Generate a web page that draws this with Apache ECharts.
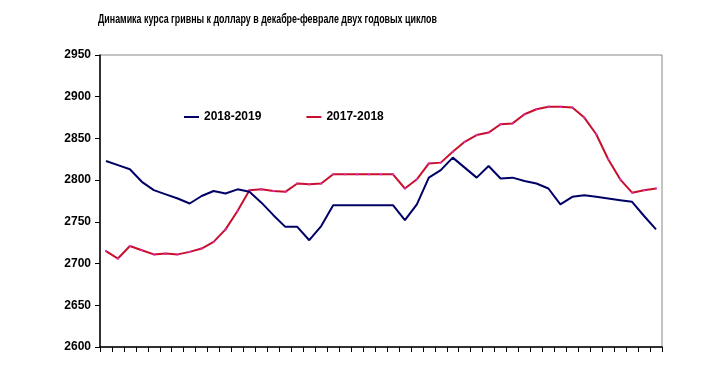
<!DOCTYPE html>
<html><head><meta charset="utf-8">
<script src="https://cdn.jsdelivr.net/npm/echarts@6/dist/echarts.min.js"></script>
<style>html,body{margin:0;padding:0;background:#fff}#c{width:710px;height:387px}</style>
</head><body><div id="c"></div>
<script>
var titleText = 'Динамика курса гривны к доллару в декабре-феврале двух годовых циклов';
var seriesNames = ['2018-2019', '2017-2018'];
var categories = [];
for (var k = 1; k <= 47; k++) categories.push(String(k));
var s2018_2019 = [2823, 2818, 2813, 2798, 2788, 2783, 2778, 2772, 2781, 2787, 2784, 2789, 2786, 2773, 2758, 2744,
  2744, 2728, 2745, 2770, 2770, 2770, 2770, 2770, 2770, 2752, 2771, 2803, 2812, 2827, 2815, 2803,
  2817, 2802, 2803, 2799, 2796, 2790, 2771, 2780, 2782, 2780, 2778, 2776, 2774, 2757, 2741];
var s2017_2018 = [2715, 2706, 2721, 2716, 2711, 2712, 2711, 2714, 2718, 2726, 2741, 2763, 2788, 2789, 2787, 2786,
  2796, 2795, 2796, 2807, 2807, 2807, 2807, 2807, 2807, 2790, 2801, 2820, 2821, 2834, 2846, 2854,
  2857, 2867, 2868, 2879, 2885, 2888, 2888, 2887, 2875, 2855, 2825, 2801, 2785, 2788, 2790];
var yMin = 2600, yMax = 2950, yStep = 50;

var chart = echarts.init(document.getElementById('c'), null, {renderer: 'canvas'});
chart.setOption({
  animation: false,
  backgroundColor: '#fff',
  graphic: [{
    type: 'text', x: 98, y: 14, scaleX: 0.74, scaleY: 1,
    style: {text: titleText, font: 'bold 12px "Liberation Sans"', fill: '#000', textVerticalAlign: 'top'}
  }],
  legend: {
    data: [
      {name: seriesNames[0], icon: 'rect', itemStyle: {color: '#000066'}},
      {name: seriesNames[1], icon: 'rect', itemStyle: {color: '#c8102e'}}
    ],
    left: 184, top: 111, padding: 0, itemWidth: 15, itemHeight: 2, itemGap: 45,
    textStyle: {fontFamily: 'Liberation Sans', fontWeight: 'bold', fontSize: 12, color: '#000'}
  },
  grid: {left: 100, right: 48, top: 55, bottom: 40, show: true, borderColor: '#888', borderWidth: 1, backgroundColor: 'transparent'},
  xAxis: {
    type: 'category', data: categories, boundaryGap: true,
    axisLine: {lineStyle: {color: '#000', width: 1.5}},
    axisTick: {show: true, length: 5, inside: false, interval: 0, lineStyle: {color: '#000'}},
    axisLabel: {show: false},
    splitLine: {show: false}
  },
  yAxis: {
    type: 'value', min: yMin, max: yMax, interval: yStep,
    axisLine: {show: true, lineStyle: {color: '#000', width: 1.5}},
    axisTick: {show: true, length: 5, lineStyle: {color: '#000'}},
    axisLabel: {fontFamily: 'Liberation Sans', fontWeight: 'bold', fontSize: 12, color: '#000', margin: 9,
      formatter: function (v) { return String(v); }},
    splitLine: {show: false}
  },
  series: [
    {
      name: seriesNames[0], type: 'line', data: s2018_2019, symbol: 'none',
      itemStyle: {color: '#000066'}, lineStyle: {color: '#000066', width: 2}, z: 3
    },
    {
      name: seriesNames[1], type: 'line', data: s2017_2018, symbol: 'rect', symbolSize: 2, showSymbol: true,
      itemStyle: {color: '#e030c0'}, lineStyle: {color: '#c8102e', width: 2}, z: 2
    }
  ]
});
</script></body></html>
